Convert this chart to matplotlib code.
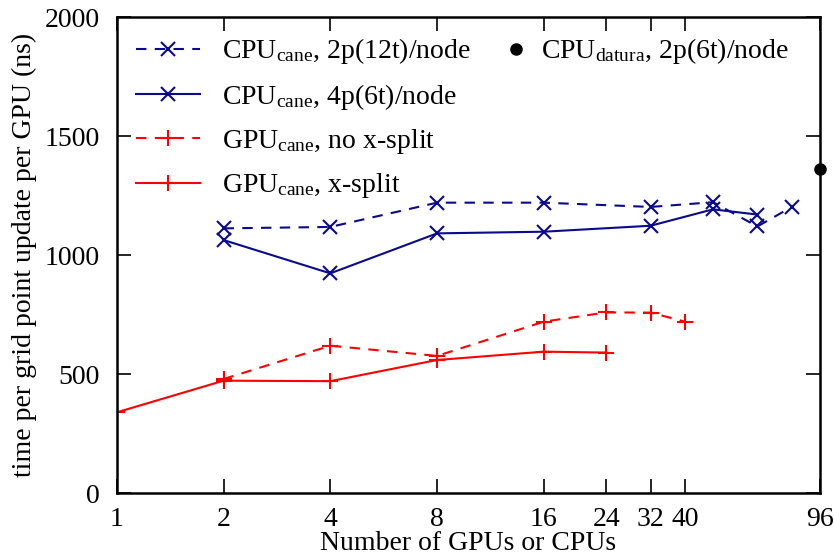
import matplotlib
matplotlib.use("Agg")
import matplotlib.pyplot as plt
from matplotlib.lines import Line2D

plt.rcParams['font.family'] = ['Liberation Serif', 'DejaVu Serif']
plt.rcParams['mathtext.fontset'] = 'custom'
plt.rcParams['mathtext.rm'] = 'Liberation Serif'
plt.rcParams['mathtext.it'] = 'Liberation Serif:italic'

# Data
cpu2_x = [2, 4, 8, 16, 32, 48, 64, 80]
cpu2_y = [1112, 1118, 1220, 1220, 1202, 1222, 1120, 1202]
cpu4_x = [2, 4, 8, 16, 32, 48, 64]
cpu4_y = [1063, 923, 1091, 1098, 1123, 1192, 1170]
gpu_nos_x = [2, 4, 8, 16, 24, 32, 40]
gpu_nos_y = [479, 619, 576, 720, 759, 758, 720]
gpu_xs_x = [1, 2, 4, 8, 16, 24]
gpu_xs_y = [339, 472, 470, 559, 594, 590]
datura_x = [96]
datura_y = [1362]

xticks = [1, 2, 4, 8, 16, 24, 32, 40, 96]
yticks = [0, 500, 1000, 1500, 2000]

blue = '#0a0a8c'
red = '#ff0000'
FS = 20

fig = plt.figure(figsize=(8.34, 5.6), dpi=100)
ax = fig.add_axes([0.140, 0.1196, 0.843, 0.850])

l1, = ax.plot(cpu2_x, cpu2_y, color=blue, ls=(0, (5, 4)), lw=1.5, marker='x', ms=10, mew=1.5)
l2, = ax.plot(cpu4_x, cpu4_y, color=blue, ls='-', lw=1.5, marker='x', ms=10, mew=1.5)
l3, = ax.plot(gpu_nos_x, gpu_nos_y, color=red, ls=(0, (5, 4)), lw=1.5, marker='+', ms=12, mew=1.5)
l4, = ax.plot(gpu_xs_x, gpu_xs_y, color=red, ls='-', lw=1.5, marker='+', ms=12, mew=1.5)
l5, = ax.plot(datura_x, datura_y, color='black', ls='none', marker='o', ms=8, clip_on=False)

ax.set_xscale('log', base=2)
ax.set_xlim(1, 96)
ax.set_ylim(0, 2000)
ax.set_xticks(xticks)
ax.set_xticklabels([str(t) for t in xticks])
ax.xaxis.set_minor_locator(matplotlib.ticker.NullLocator())
ax.set_yticks(yticks)
ax.tick_params(direction='in', length=10, width=1.2, top=True, right=True, labelsize=FS)
ax.tick_params(axis='x', pad=10)
ax.tick_params(axis='y', pad=12)
for s in ax.spines.values():
    s.set_linewidth(1.8)

ax.set_xlabel('Number of GPUs or CPUs', fontsize=FS, labelpad=-1)
ax.set_ylabel('time per grid point update per GPU (ns)', fontsize=FS, labelpad=6)

leg1 = ax.legend([l1, l2, l3, l4],
                 [r'CPU$_{\rm cane}$, 2p(12t)/node', r'CPU$_{\rm cane}$, 4p(6t)/node',
                  r'GPU$_{\rm cane}$, no x-split', r'GPU$_{\rm cane}$, x-split'],
                 loc='upper left', bbox_to_anchor=(0.0, 1.0), frameon=False, fontsize=FS,
                 handlelength=2.3, labelspacing=0.55, handletextpad=0.8, borderaxespad=0.3,
                 numpoints=1)
ax.add_artist(leg1)
ax.legend([Line2D([], [], color='black', ls='none', marker='o', ms=8)],
          [r'CPU$_{\rm datura}$, 2p(6t)/node'],
          loc='upper left', bbox_to_anchor=(0.52, 1.0), frameon=False, fontsize=FS,
          handlelength=1.0, handletextpad=0.4, borderaxespad=0.3, numpoints=1)

fig.savefig('out.png', dpi=100)
